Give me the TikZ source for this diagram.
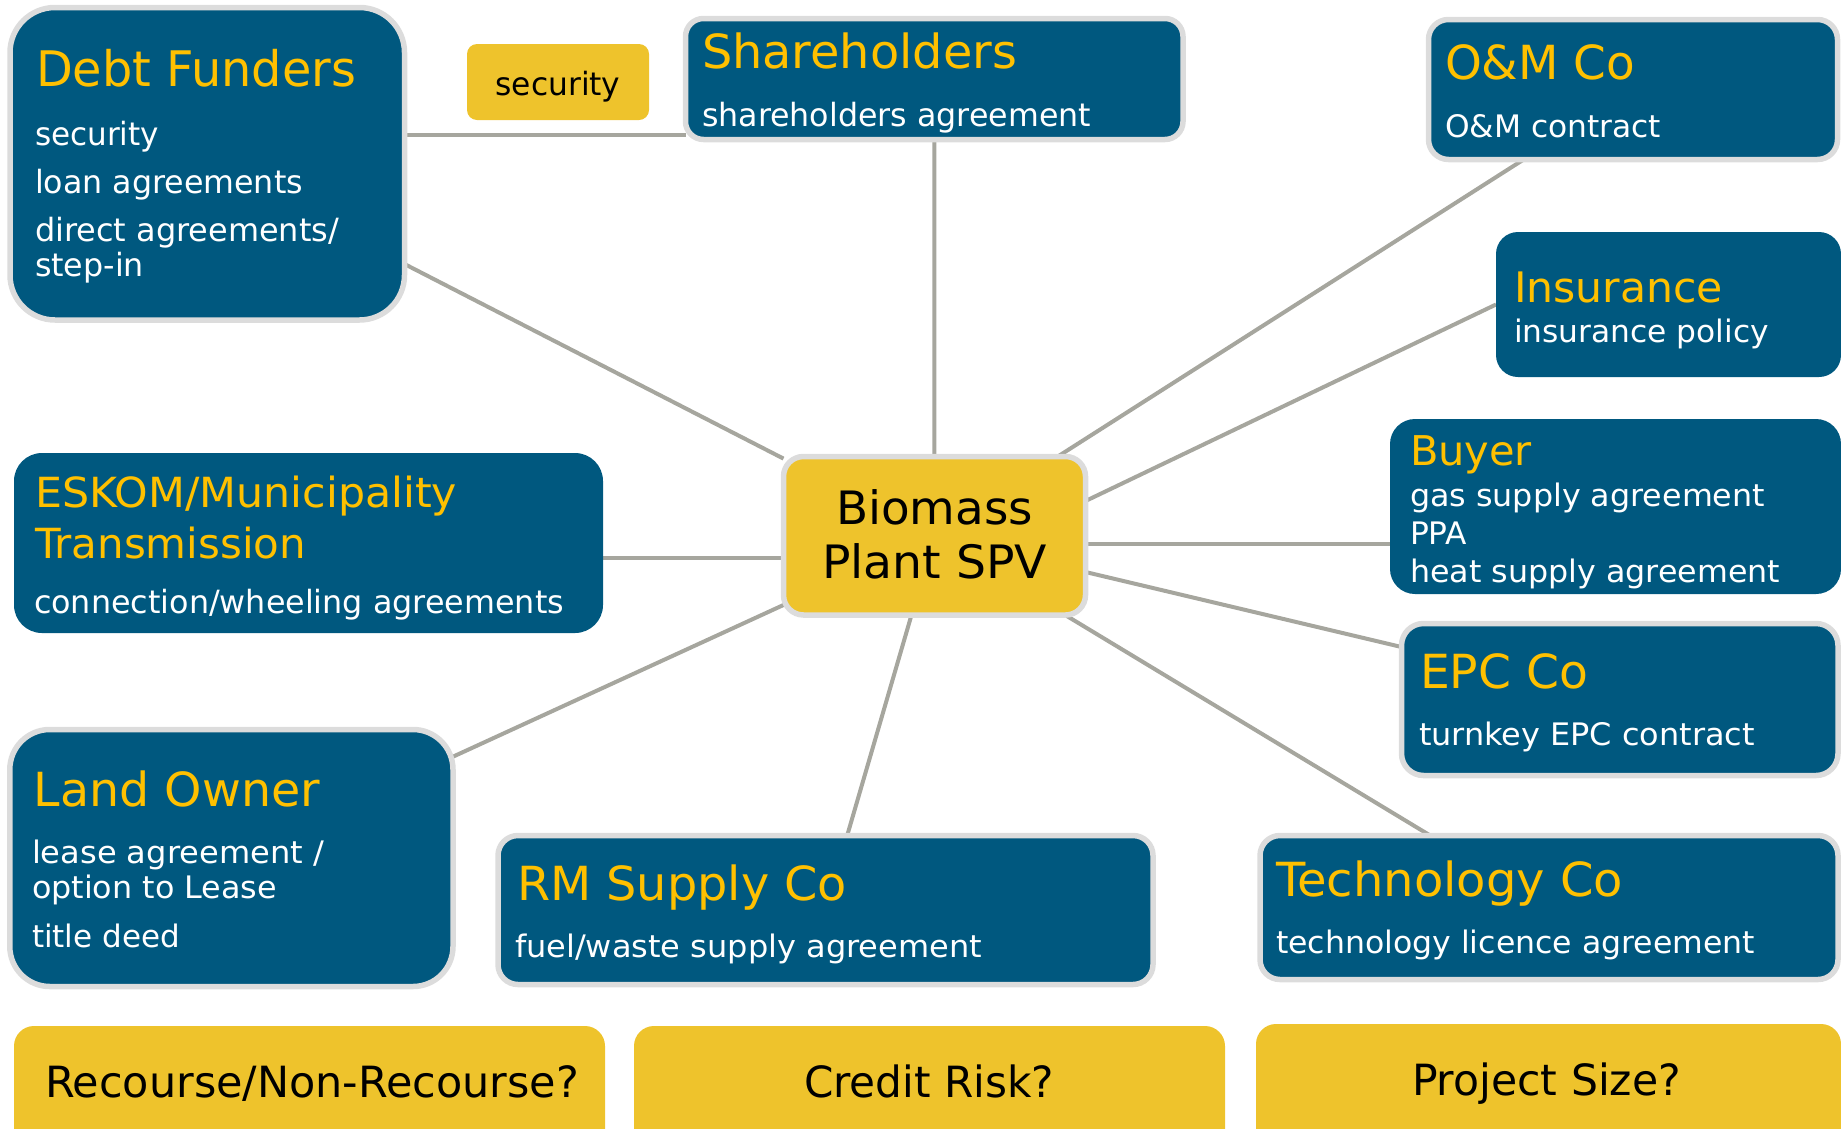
\documentclass[tikz,border=0pt]{standalone}
\usepackage{fontspec}
\setmainfont{DejaVu Sans}
\usepackage{graphicx}
\usetikzlibrary{calc}

\definecolor{boxblue}{HTML}{00587F}
\definecolor{titlegold}{HTML}{FFC000}
\definecolor{notegold}{HTML}{EEC32C}
\definecolor{rimgray}{HTML}{DCDCDC}
\definecolor{linkgray}{HTML}{A6A69E}

% set a line of text at a given width (horizontal scaling only)
\newsavebox\fitbox
\newdimen\fitwd
\newcommand\fitto[2]{\sbox\fitbox{#2}\fitwd=\wd\fitbox
  \pgfmathsetmacro\fitratio{#1/\fitwd}\scalebox{\fitratio}[1]{\usebox\fitbox}}
\newcommand\fsz[1]{\fontsize{#1}{#1}\selectfont}

\pgfdeclarelayer{links}
\pgfsetlayers{links,main}

\tikzset{
  party/.style={rectangle, fill=boxblue, inner sep=0pt, outer sep=0pt},
  rimmed/.style={party, draw=rimgray, line width=5.5pt},
  note/.style={rectangle, fill=notegold, inner sep=0pt, outer sep=0pt},
  hub/.style={note, draw=rimgray, line width=5.5pt},
  txt/.style={anchor=base west, inner sep=0pt, outer sep=0pt, text=white},
  ttl/.style={txt, text=titlegold},
  dark/.style={inner sep=0pt, outer sep=0pt, text=black},
  link/.style={draw=linkgray, line width=4pt}
}

\begin{document}
\begin{tikzpicture}[x=1pt, y=1pt]
\useasboundingbox (0,0) rectangle (1841,-1128);

% ---- boxes ----
\node[rimmed, rounded corners=45pt, minimum width=394.5pt, minimum height=312.5pt] (debt) at (207.25,-163.75) {};
\node[note, rounded corners=10pt, minimum width=182pt, minimum height=76pt] (sec) at (558,-82) {};
\node[rimmed, rounded corners=18pt, minimum width=497.5pt, minimum height=121pt] (sh) at (934.25,-79) {};
\node[rimmed, rounded corners=20pt, minimum width=409pt, minimum height=140pt] (om) at (1633,-89.5) {};
\node[party, rounded corners=22pt, minimum width=345pt, minimum height=145pt] (ins) at (1668.5,-304.5) {};
\node[party, rounded corners=25pt, minimum width=451pt, minimum height=175pt] (buyer) at (1615.5,-506.5) {};
\node[rimmed, rounded corners=22pt, minimum width=436.5pt, minimum height=152pt] (epc) at (1619.75,-699.5) {};
\node[hub, rounded corners=20pt, minimum width=302pt, minimum height=158.5pt] (spv) at (934.5,-535.75) {};
\node[party, rounded corners=28pt, minimum width=589pt, minimum height=180pt] (eskom) at (308.5,-543) {};
\node[rimmed, rounded corners=40pt, minimum width=443.2pt, minimum height=257pt] (land) at (231.4,-858) {};
\node[rimmed, rounded corners=20pt, minimum width=655pt, minimum height=149pt] (rm) at (825.5,-910) {};
\node[rimmed, rounded corners=20pt, minimum width=578pt, minimum height=144pt] (tech) at (1549,-907.5) {};
\node[note, rounded corners=20pt, minimum width=591pt, minimum height=134pt] (q1) at (309.5,-1093) {};
\node[note, rounded corners=20pt, minimum width=591pt, minimum height=134pt] (q2) at (929.5,-1093) {};
\node[note, rounded corners=20pt, minimum width=585pt, minimum height=136pt] (q3) at (1548.5,-1092) {};

% ---- connectors ----
\begin{pgfonlayer}{links}
\draw[link] (debt) -- (spv);
\draw[link] ([yshift=28.75pt]debt.east) -- ([yshift=28.75pt]debt.east -| sh.west);
\draw[link] (sh) -- (spv);
\draw[link] (om) -- (spv);
\draw[link] (ins.west) -- ([yshift=34.75pt]spv.east);
\draw[link] ([yshift=-8.25pt]spv.east) -- ([yshift=-8.25pt]spv.east -| buyer.west);
\draw[link] ([yshift=-36.25pt]spv.east) -- ([yshift=52.5pt]epc.west);
\draw[link] (spv) -- (tech);
\draw[link] (spv) -- (rm);
\draw[link] (spv) -- (land);
\draw[link] ([yshift=-22.25pt]spv.west) -- ([yshift=-22.25pt]spv.west -| eskom.east);
\end{pgfonlayer}

% ---- texts ----
\node[ttl] (debtT) at (36,-86) {\fsz{49}\fitto{320}{Debt Funders}};
\node[txt] (debt1) at (35,-145) {\fsz{32}\fitto{124}{security}};
\node[txt] (debt2) at (35,-193) {\fsz{32}\fitto{268}{loan agreements}};
\node[txt] (debt3) at (35,-241) {\fsz{32}\fitto{304}{direct agreements/}};
\node[txt] (debt4) at (35,-276) {\fsz{32}\fitto{109}{step-in}};

\node[dark, anchor=base] (secT) at (558,-95) {\fsz{32}\fitto{125}{security}};

\node[ttl] (shT) at (702,-68) {\fsz{47}\fitto{315}{Shareholders}};
\node[txt] (sh1) at (702,-126) {\fsz{32}\fitto{389}{shareholders agreement}};

\node[ttl] (omT) at (1445,-79) {\fsz{47}\fitto{190}{O\&M Co}};
\node[txt] (om1) at (1445,-137) {\fsz{31}\fitto{216}{O\&M contract}};

\node[ttl] (insT) at (1514,-302) {\fsz{42}\fitto{209}{Insurance}};
\node[txt] (ins1) at (1514,-342) {\fsz{31}\fitto{255}{insurance policy}};

\node[ttl] (buyerT) at (1410,-465) {\fsz{41}\fitto{122}{Buyer}};
\node[txt] (buyer1) at (1410,-506) {\fsz{31}\fitto{355}{gas supply agreement}};
\node[txt] (buyer2) at (1410,-544) {\fsz{31}\fitto{57}{PPA}};
\node[txt] (buyer3) at (1410,-582) {\fsz{31}\fitto{370}{heat supply agreement}};

\node[ttl] (epcT) at (1420,-688) {\fsz{47}\fitto{168}{EPC Co}};
\node[txt] (epc1) at (1419,-745) {\fsz{31}\fitto{336}{turnkey EPC contract}};

\node[ttl] (techT) at (1276,-896) {\fsz{47}\fitto{347}{Technology Co}};
\node[txt] (tech1) at (1276,-953) {\fsz{31}\fitto{479}{technology licence agreement}};

\node[ttl] (rmT) at (517,-900) {\fsz{47}\fitto{330}{RM Supply Co}};
\node[txt] (rm1) at (515,-957) {\fsz{31}\fitto{467}{fuel/waste supply agreement}};

\node[ttl] (landT) at (34,-806) {\fsz{47}\fitto{286}{Land Owner}};
\node[txt] (land1) at (32,-863) {\fsz{31}\fitto{292}{lease agreement /}};
\node[txt] (land2) at (32,-898) {\fsz{31}\fitto{245}{option to Lease}};
\node[txt] (land3) at (32,-947) {\fsz{31}\fitto{148}{title deed}};

\node[ttl] (eskomT1) at (35,-507) {\fsz{41.5}\fitto{422}{ESKOM/Municipality}};
\node[ttl] (eskomT2) at (35,-558) {\fsz{41.5}\fitto{271}{Transmission}};
\node[txt] (eskom1) at (34,-613) {\fsz{32}\fitto{530}{connection/wheeling agreements}};

\node[dark, anchor=base] (spv1) at (934.5,-524) {\fsz{46}\fitto{197}{Biomass}};
\node[dark, anchor=base] (spv2) at (934.5,-578) {\fsz{46}\fitto{225}{Plant SPV}};

\node[dark, anchor=base west] (q1T) at (45,-1097) {\fsz{43}\fitto{534}{Recourse/Non-Recourse?}};
\node[dark, anchor=base west] (q2T) at (804,-1097) {\fsz{43}\fitto{250}{Credit Risk?}};
\node[dark, anchor=base west] (q3T) at (1412,-1095) {\fsz{43}\fitto{269}{Project Size?}};
\end{tikzpicture}
\end{document}
